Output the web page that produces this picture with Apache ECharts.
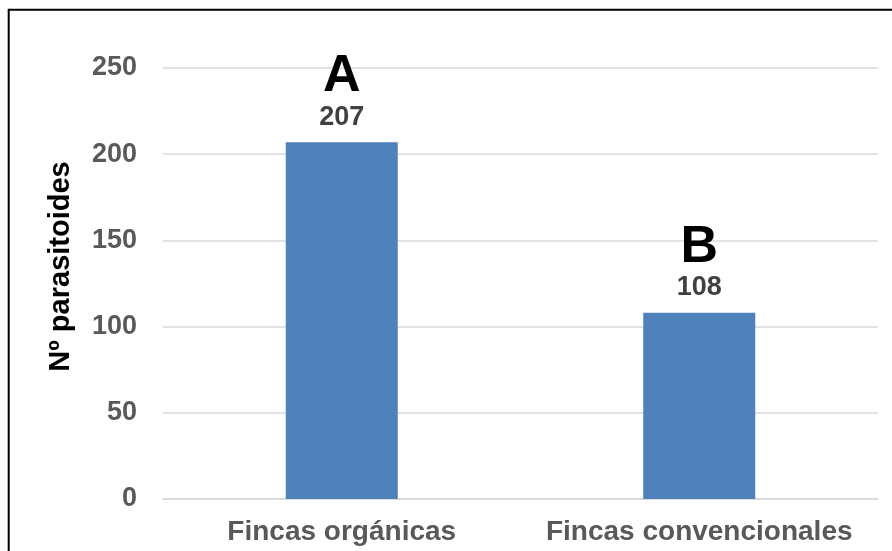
<!DOCTYPE html>
<html>
<head>
<meta charset="utf-8">
<script src="https://cdn.jsdelivr.net/npm/echarts@6/dist/echarts.min.js"></script>
<style>
  html, body { margin: 0; padding: 0; background: #fff; }
  #chart { width: 892px; height: 551px; }
</style>
</head>
<body>
<div id="chart"></div>
<script>
// Parasitoid counts per farm type, with significance letters
const categories = ['Fincas orgánicas', 'Fincas convencionales'];
const counts = [207, 108];
const letters = ['A', 'B'];
const yTicks = { min: 0, max: 250, interval: 50 };

const font = 'Arial, "Liberation Sans", sans-serif';
const chart = echarts.init(document.getElementById('chart'));

chart.setOption({
  animation: false,
  backgroundColor: '#ffffff',
  grid: { left: 163, right: 14, top: 68, bottom: 52 },
  graphic: [{
    type: 'rect',
    shape: { x: 8.7, y: 9.8, width: 920, height: 600 },
    style: { fill: 'none', stroke: '#000000', lineWidth: 2 },
    silent: true
  }],
  xAxis: {
    type: 'category',
    data: categories,
    axisLine: { show: true, lineStyle: { color: '#D9D9D9', width: 1.5 } },
    axisTick: { show: false },
    axisLabel: {
      interval: 0,
      color: '#595959', fontFamily: font, fontWeight: 'bold', fontSize: 28, margin: 19
    }
  },
  yAxis: {
    type: 'value',
    min: yTicks.min, max: yTicks.max, interval: yTicks.interval,
    name: 'Nº parasitoides',
    nameLocation: 'middle',
    nameRotate: 90,
    nameGap: 88,
    nameTextStyle: {
      color: '#000000', fontFamily: font, fontWeight: 'bold', fontSize: 29,
      padding: [0, 0, 0, 34]
    },
    axisLine: { show: false },
    axisTick: { show: false },
    axisLabel: {
      color: '#595959', fontFamily: font, fontWeight: 'bold', fontSize: 27, margin: 26
    },
    splitLine: { lineStyle: { color: '#D9D9D9', width: 1.5 } }
  },
  series: [{
    type: 'bar',
    data: counts,
    barWidth: 112,
    itemStyle: { color: '#4F81BD' },
    label: {
      show: true,
      position: 'top',
      distance: 9,
      formatter: (p) => '{l|' + letters[p.dataIndex] + '}\n{v|' + p.value + '}',
      rich: {
        l: { color: '#000000', fontFamily: font, fontWeight: 'bold', fontSize: 52, lineHeight: 48 },
        v: { color: '#404040', fontFamily: font, fontWeight: 'bold', fontSize: 27, lineHeight: 32 }
      }
    }
  }]
});
</script>
</body>
</html>
